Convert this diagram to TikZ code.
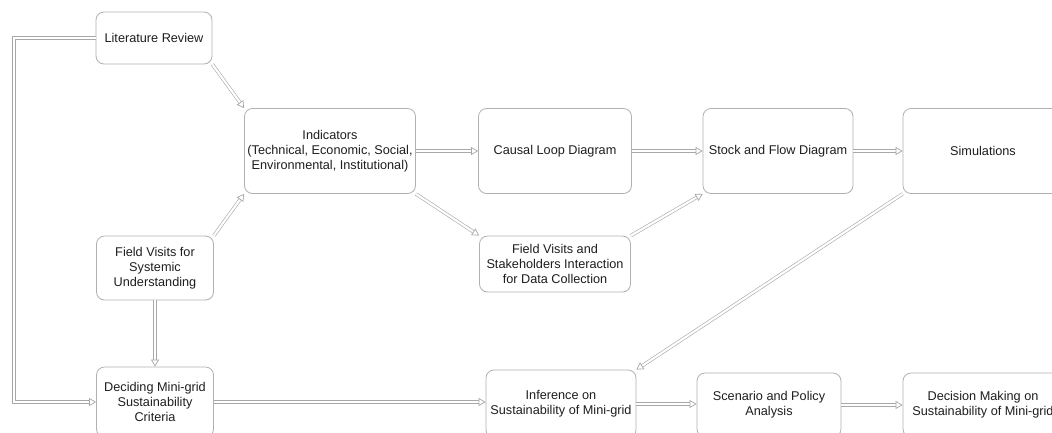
\documentclass[tikz,border=0pt]{standalone}
\usepackage{fontspec}
\setmainfont{Liberation Sans}
\usetikzlibrary{arrows.meta}
\definecolor{edge}{HTML}{A8A8A8}
\definecolor{boxline}{HTML}{B0B0B0}
\definecolor{txt}{HTML}{1E1E1E}
\tikzset{
  box/.style={draw=boxline, line width=0.8pt, rounded corners=8pt, fill=white,
    align=center, text=txt, inner sep=0pt,
    font=\fontsize{12.7pt}{15pt}\selectfont},
  conn/.style={draw=edge, line width=0.6pt, double=white, double distance=2.2pt,
    -{Triangle[open, length=7pt, width=8pt, line width=0.7pt, color=edge]}},
}
\begin{document}
\begin{tikzpicture}[x=1pt, y=-1pt]
\useasboundingbox (0,0) rectangle (1052,432);
\clip (0,0) rectangle (1052,432);
\fill[white] (0,0) rectangle (1052,432);

\node[box, minimum width=116pt, minimum height=52pt] (lit) at (154,38) {Literature Review};
\node[box, minimum width=171pt, minimum height=85pt] (ind) at (330,151) {Indicators\\(Technical, Economic, Social,\\Environmental, Institutional)};
\node[box, minimum width=153pt, minimum height=85pt] (cld) at (555,151) {Causal Loop Diagram};
\node[box, minimum width=150pt, minimum height=85pt] (sfd) at (778,151) {Stock and Flow Diagram};
\node[box, minimum width=160pt, minimum height=85pt] (sim) at (983,151) {Simulations};
\node[box, minimum width=117pt, minimum height=64pt] (fvs) at (155,268) {Field Visits for\\Systemic\\Understanding};
\node[box, minimum width=151pt, minimum height=56pt] (fvd) at (555,264) {Field Visits and\\Stakeholders Interaction\\for Data Collection};
\node[box, minimum width=117pt, minimum height=70pt] (dec) at (155,402) {Deciding Mini-grid\\Sustainability\\Criteria};
\node[box, minimum width=150pt, minimum height=68pt] (inf) at (561,404) {Inference on\\Sustainability of Mini-grid};
\node[box, minimum width=144pt, minimum height=64pt] (sce) at (769,405) {Scenario and Policy\\Analysis};
\node[box, minimum width=160pt, minimum height=64pt] (dmk) at (983,405) {Decision Making on\\Sustainability of Mini-grid};

\coordinate (loopx) at (14,0);

\draw[conn] (lit.west) -- (lit.west -| loopx) |- (dec.west);
\draw[conn] (lit.south east) -- (ind.north west);
\draw[conn] (fvs.north east) -- (ind.south west);
\draw[conn] (fvs.south) -- (dec.north);
\draw[conn] (ind.east) -- (cld.west);
\draw[conn] (ind.south east) -- (fvd.north west);
\draw[conn] (cld.east) -- (sfd.west);
\draw[conn] (fvd.north east) -- (sfd.south west);
\draw[conn] (sfd.east) -- (sim.west);
\draw[conn] (sim.south west) -- (inf.north east);
\draw[conn] (dec.east) -- (dec.east -| inf.west);
\draw[conn] (inf.east) -- (inf.east -| sce.west);
\draw[conn] (sce.east) -- (sce.east -| dmk.west);
\end{tikzpicture}
\end{document}
